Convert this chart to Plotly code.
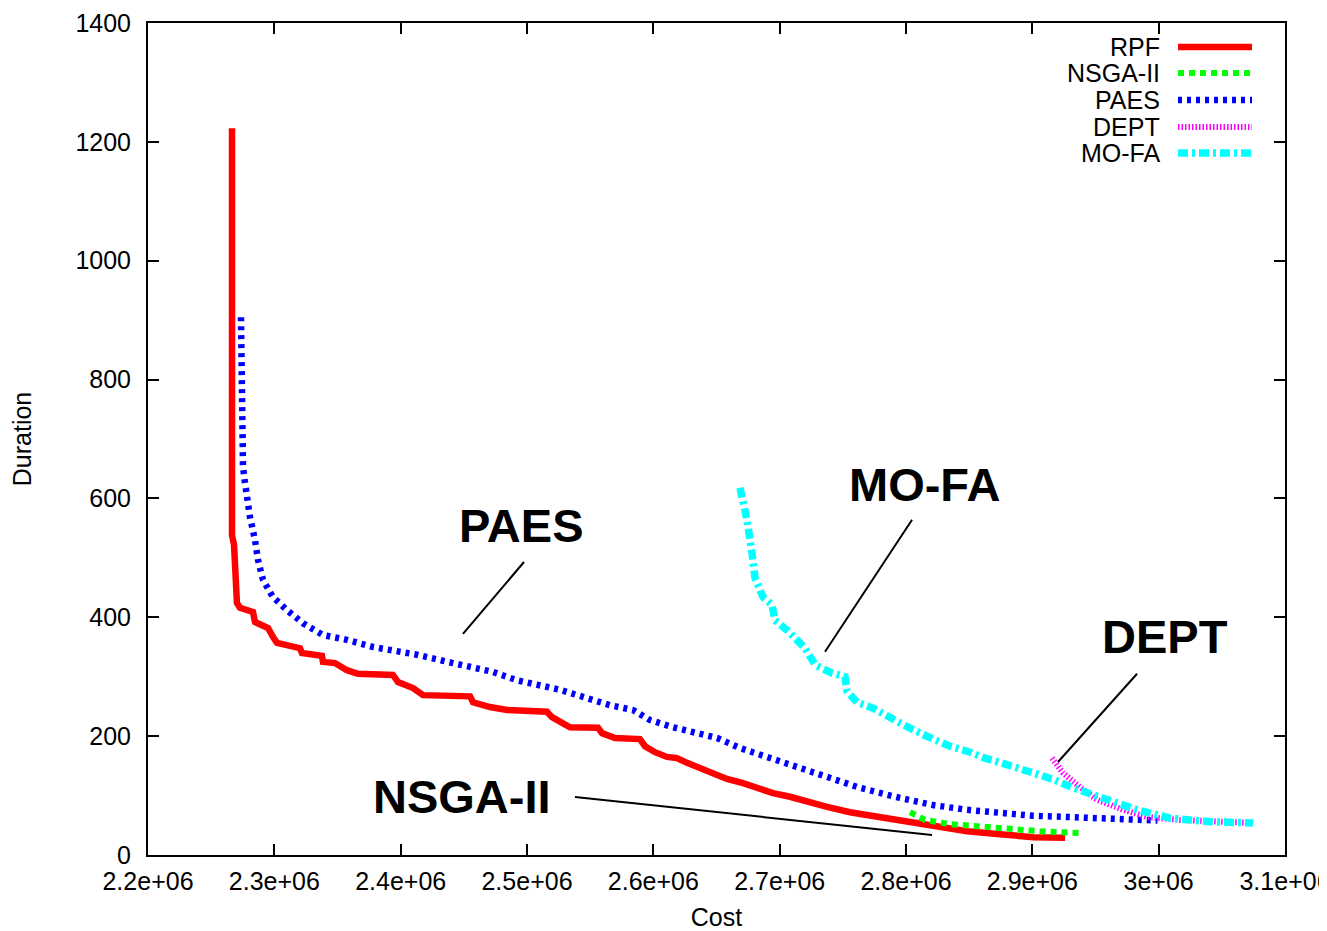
import plotly.graph_objects as go

# ---------------- data ----------------
rpf_cost = [2.2665e6, 2.2665e6, 2.2681e6, 2.2689e6, 2.2704e6, 2.2728e6, 2.2831e6, 2.2847e6,
            2.2950e6, 2.2989e6, 2.3021e6, 2.3203e6, 2.3219e6, 2.3377e6, 2.3385e6, 2.3480e6,
            2.3575e6, 2.3662e6, 2.3939e6, 2.3979e6, 2.4098e6, 2.4177e6, 2.4549e6, 2.4573e6,
            2.4707e6, 2.4842e6, 2.5158e6, 2.5198e6, 2.5340e6, 2.5562e6, 2.5594e6, 2.5697e6,
            2.5894e6, 2.5934e6, 2.6013e6, 2.6108e6, 2.6187e6, 2.6267e6, 2.6369e6, 2.6449e6,
            2.6583e6, 2.6710e6, 2.6821e6, 2.6947e6, 2.7082e6, 2.7216e6, 2.7375e6, 2.7557e6,
            2.7691e6, 2.7873e6, 2.8032e6, 2.8214e6, 2.8483e6, 2.8744e6, 2.9005e6, 2.9259e6]
rpf_dur = [1223, 538, 522, 491, 424, 416, 409, 392,
           382, 367, 357, 348, 340, 335, 325, 323,
           311, 305, 303, 291, 281, 269, 267, 257,
           249, 244, 241, 232, 215, 214, 205, 197,
           195, 183, 173, 165, 163, 155, 146, 140,
           128, 121, 113, 104, 98, 89, 81, 72,
           67, 62, 56, 49, 40, 35, 30, 29]

nsga_cost = [2.8032e6, 2.8150e6, 2.8348e6, 2.8586e6, 2.8823e6, 2.9061e6, 2.9377e6]
nsga_dur = [72, 59, 52, 47, 44, 40, 37]

paes_cost = [2.2736e6, 2.2744e6, 2.2752e6, 2.2768e6, 2.2807e6, 2.2847e6, 2.2871e6, 2.2910e6,
             2.2989e6, 2.3100e6, 2.3227e6, 2.3385e6, 2.3575e6, 2.3781e6, 2.3939e6, 2.4129e6,
             2.4414e6, 2.4573e6, 2.4731e6, 2.4921e6, 2.5103e6, 2.5261e6, 2.5475e6, 2.5657e6,
             2.5839e6, 2.5974e6, 2.6156e6, 2.6290e6, 2.6504e6, 2.6686e6, 2.6900e6, 2.7106e6,
             2.7375e6, 2.7636e6, 2.7953e6, 2.8214e6, 2.8483e6, 2.8744e6, 2.9005e6, 2.9274e6,
             2.9536e6, 2.9991e6]
paes_dur = [905, 698, 653, 626, 569, 530, 496, 463,
            434, 412, 390, 370, 362, 350, 345, 337,
            323, 316, 308, 294, 286, 278, 264, 252,
            244, 227, 215, 207, 197, 180, 165, 148,
            130, 113, 96, 84, 76, 71, 66, 64,
            62, 58]

dept_cost = [2.9156e6, 2.9243e6, 2.9377e6, 2.9512e6, 2.9718e6, 2.9908e6, 3.0169e6, 3.0430e6, 3.0723e6]
dept_dur = [163, 138, 114, 93, 76, 64, 59, 56, 54]

mofa_cost = [2.6686e6, 2.6741e6, 2.6781e6, 2.6805e6, 2.6868e6, 2.6939e6, 2.6963e6, 2.7066e6,
             2.7201e6, 2.7280e6, 2.7414e6, 2.7517e6, 2.7533e6, 2.7612e6, 2.7739e6, 2.7873e6,
             2.8016e6, 2.8174e6, 2.8348e6, 2.8507e6, 2.8625e6, 2.8784e6, 2.8982e6, 2.9156e6,
             2.9322e6, 2.9559e6, 2.9829e6, 3.0090e6, 3.0406e6, 3.0747e6]
mofa_dur = [618, 564, 508, 466, 434, 421, 395, 377,
            348, 320, 306, 300, 276, 257, 247, 231,
            215, 199, 183, 173, 163, 153, 140, 128,
            113, 96, 76, 62, 56, 54]

x_tickvals = [2.2e6, 2.3e6, 2.4e6, 2.5e6, 2.6e6, 2.7e6, 2.8e6, 2.9e6, 3.0e6, 3.1e6]
x_ticktext = ["2.2e+06", "2.3e+06", "2.4e+06", "2.5e+06", "2.6e+06",
              "2.7e+06", "2.8e+06", "2.9e+06", "3e+06", "3.1e+06"]
y_tickvals = [0, 200, 400, 600, 800, 1000, 1200, 1400]
y_ticktext = ["0", "200", "400", "600", "800", "1000", "1200", "1400"]

# callout labels and their pointer lines
callout_text = ["PAES", "MO-FA", "DEPT", "NSGA-II"]
callout_x = [2.4960e6, 2.8150e6, 3.0050e6, 2.4486e6]
callout_y = [555, 623, 367, 98]
pointer_x0 = [2.4976e6, 2.8048e6, 2.9829e6, 2.5380e6]
pointer_y0 = [493, 564, 305, 97.6]
pointer_x1 = [2.4493e6, 2.7359e6, 2.9203e6, 2.8206e6]
pointer_y1 = [372, 342, 156.5, 33.7]

series_names = ["RPF", "NSGA-II", "PAES", "DEPT", "MO-FA"]
series_colors = ["#ff0000", "#00ff00", "#0000ff", "#ff00ff", "#00ffff"]
series_dash = ["solid", "6px,5px", "4px,5px", "1.5px,2px", "10px,4px,3px,4px"]
series_width = [6.5, 6, 6.5, 6, 7.5]

FONT = "Liberation Sans, Arial, Helvetica, sans-serif"

fig = go.Figure()

series = [(rpf_cost, rpf_dur), (nsga_cost, nsga_dur), (paes_cost, paes_dur),
          (dept_cost, dept_dur), (mofa_cost, mofa_dur)]
for (xs, ys), name, col, dash, w in zip(series, series_names, series_colors, series_dash, series_width):
    fig.add_trace(go.Scatter(x=xs, y=ys, mode="lines", name=name, showlegend=False,
                             line=dict(color=col, width=w, dash=dash)))

for i in range(len(callout_text)):
    fig.add_trace(go.Scatter(x=[pointer_x0[i], pointer_x1[i]], y=[pointer_y0[i], pointer_y1[i]],
                             mode="lines", showlegend=False, hoverinfo="skip",
                             line=dict(color="black", width=2)))

annotations = []
for t, x, y in zip(callout_text, callout_x, callout_y):
    annotations.append(dict(x=x, y=y, xref="x", yref="y", text="<b>%s</b>" % t, showarrow=False,
                            font=dict(family=FONT, size=47, color="black"),
                            xanchor="center", yanchor="middle"))

# gnuplot-style key (text on the left, line sample on the right)
key_rows = [0.9712, 0.9399, 0.9075, 0.8750, 0.8438]
shapes = []
for name, col, dash, w, yk in zip(series_names, series_colors, series_dash, series_width, key_rows):
    annotations.append(dict(x=0.8918, y=yk, xref="paper", yref="paper", text=name, showarrow=False,
                            font=dict(family=FONT, size=25, color="black"),
                            xanchor="right", yanchor="middle"))
    shapes.append(dict(type="line", xref="paper", yref="paper", x0=0.9059, x1=0.9710, y0=yk, y1=yk,
                       line=dict(color=col, width=w, dash=dash)))

# the page body adds an 8px offset, so the figure is 8px smaller and the
# left/top margins are reduced accordingly
fig.update_layout(
    width=1319, height=923,
    margin=dict(l=140, r=42, t=15, b=76, autoexpand=False),
    paper_bgcolor="white", plot_bgcolor="white",
    font=dict(family=FONT, size=25, color="black"),
    annotations=annotations, shapes=shapes,
    showlegend=False,
)
fig.update_xaxes(range=[2.2e6, 3.1e6], tickvals=x_tickvals, ticktext=x_ticktext,
                 showgrid=False, zeroline=False, showline=True, linecolor="black", linewidth=2,
                 mirror="ticks", ticks="inside", ticklen=11, tickwidth=1.5, tickcolor="black",
                 ticklabelstandoff=3, ticklabeloverflow="allow",
                 tickfont=dict(family=FONT, size=25),
                 title=dict(text="Cost", font=dict(family=FONT, size=25), standoff=15))
fig.update_yaxes(range=[0, 1400], tickvals=y_tickvals, ticktext=y_ticktext,
                 showgrid=False, zeroline=False, showline=True, linecolor="black", linewidth=2,
                 mirror="ticks", ticks="inside", ticklen=11, tickwidth=1.5, tickcolor="black",
                 ticklabelstandoff=10,
                 tickfont=dict(family=FONT, size=25),
                 title=dict(text="Duration", font=dict(family=FONT, size=25), standoff=38))

fig.write_html("out.html")
